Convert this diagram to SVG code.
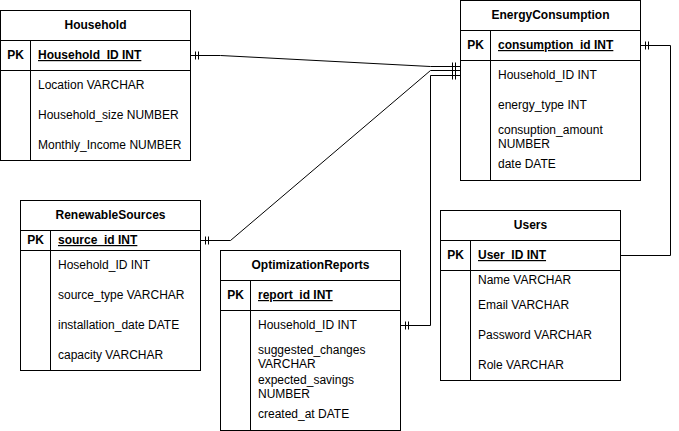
<svg xmlns="http://www.w3.org/2000/svg" width="679" height="431" viewBox="0 0 679 431">
<style>
text{font-family:"Liberation Sans",Arial,sans-serif;font-size:12px;fill:#000}
.t{font-weight:bold;text-anchor:middle}
.pk{font-weight:bold;text-anchor:middle}
.k{font-weight:bold;text-decoration:underline}
.box{fill:#fff;stroke:#000;stroke-width:1}
.ln{fill:none;stroke:#000;stroke-width:1}
.c{fill:none;stroke:#000;stroke-width:1}
</style>
<rect width="679" height="431" fill="#fff"/>
<g id="connectors">
<path class="c" d="M190.5,55.5 H220.5 L430.5,66.5 H460.5"/>
<path class="c" d="M195.5,51.5 V59.5 M198.5,51.5 V59.5 M452.5,62.5 V70.5 M455.5,62.5 V70.5"/>
<path class="c" d="M200.5,240.5 H230.5 L430.5,70.5 H460.5"/>
<path class="c" d="M205.5,236.5 V244.5 M208.5,236.5 V244.5 M452.5,66.5 V74.5 M455.5,66.5 V74.5"/>
<path class="c" d="M400.5,325.5 H430.5 V75.5 H460.5"/>
<path class="c" d="M405.5,321.5 V329.5 M408.5,321.5 V329.5 M452.5,71.5 V79.5 M455.5,71.5 V79.5"/>
<path class="c" d="M640.5,45.5 H670.5 V255.5 H620.5"/>
<path class="c" d="M645.5,41.5 V49.5 M648.5,41.5 V49.5"/>
</g>
<g id="household">
<rect class="box" x="0.5" y="10.5" width="190" height="150"/>
<path class="ln" d="M0.5,40.5 H190.5 M0.5,70.5 H190.5 M30.5,40.5 V160.5"/>
<text class="t" x="95.5" y="29">Household</text>
<text class="pk" x="15.5" y="59">PK</text>
<text class="k" x="38" y="59">Household_ID INT</text>
<text x="38" y="89">Location VARCHAR</text>
<text x="38" y="119">Household_size NUMBER</text>
<text x="38" y="149">Monthly_Income NUMBER</text>
</g>
<g id="energyconsumption">
<rect class="box" x="460.5" y="0.5" width="180" height="180"/>
<path class="ln" d="M460.5,30.5 H640.5 M460.5,60.5 H640.5 M490.5,30.5 V180.5"/>
<text class="t" x="550.5" y="19">EnergyConsumption</text>
<text class="pk" x="475.5" y="49">PK</text>
<text class="k" x="498" y="49">consumption_id INT</text>
<text x="498" y="79">Household_ID INT</text>
<text x="498" y="109">energy_type INT</text>
<text x="498" y="134">consuption_amount</text>
<text x="498" y="148">NUMBER</text>
<text x="498" y="168">date DATE</text>
</g>
<g id="renewablesources">
<rect class="box" x="20.5" y="200.5" width="180" height="170"/>
<path class="ln" d="M20.5,230.5 H200.5 M20.5,250.5 H200.5 M50.5,230.5 V370.5"/>
<text class="t" x="110.5" y="219">RenewableSources</text>
<text class="pk" x="35.5" y="244">PK</text>
<text class="k" x="58" y="244">source_id INT</text>
<text x="58" y="269">Hosehold_ID INT</text>
<text x="58" y="299">source_type VARCHAR</text>
<text x="58" y="329">installation_date DATE</text>
<text x="58" y="359">capacity VARCHAR</text>
</g>
<g id="optimizationreports">
<rect class="box" x="220.5" y="250.5" width="180" height="180"/>
<path class="ln" d="M220.5,280.5 H400.5 M220.5,310.5 H400.5 M250.5,280.5 V430.5"/>
<text class="t" x="310.5" y="269">OptimizationReports</text>
<text class="pk" x="235.5" y="299">PK</text>
<text class="k" x="258" y="299">report_id INT</text>
<text x="258" y="329">Household_ID INT</text>
<text x="258" y="354">suggested_changes</text>
<text x="258" y="368">VARCHAR</text>
<text x="258" y="384">expected_savings</text>
<text x="258" y="398">NUMBER</text>
<text x="258" y="418">created_at DATE</text>
</g>
<g id="users">
<rect class="box" x="440.5" y="210.5" width="180" height="170"/>
<path class="ln" d="M440.5,240.5 H620.5 M440.5,270.5 H620.5 M470.5,240.5 V380.5"/>
<text class="t" x="530.5" y="229">Users</text>
<text class="pk" x="455.5" y="259">PK</text>
<text class="k" x="478" y="259">User_ID INT</text>
<text x="478" y="284">Name VARCHAR</text>
<text x="478" y="309">Email VARCHAR</text>
<text x="478" y="339">Password VARCHAR</text>
<text x="478" y="369">Role VARCHAR</text>
</g>
</svg>
